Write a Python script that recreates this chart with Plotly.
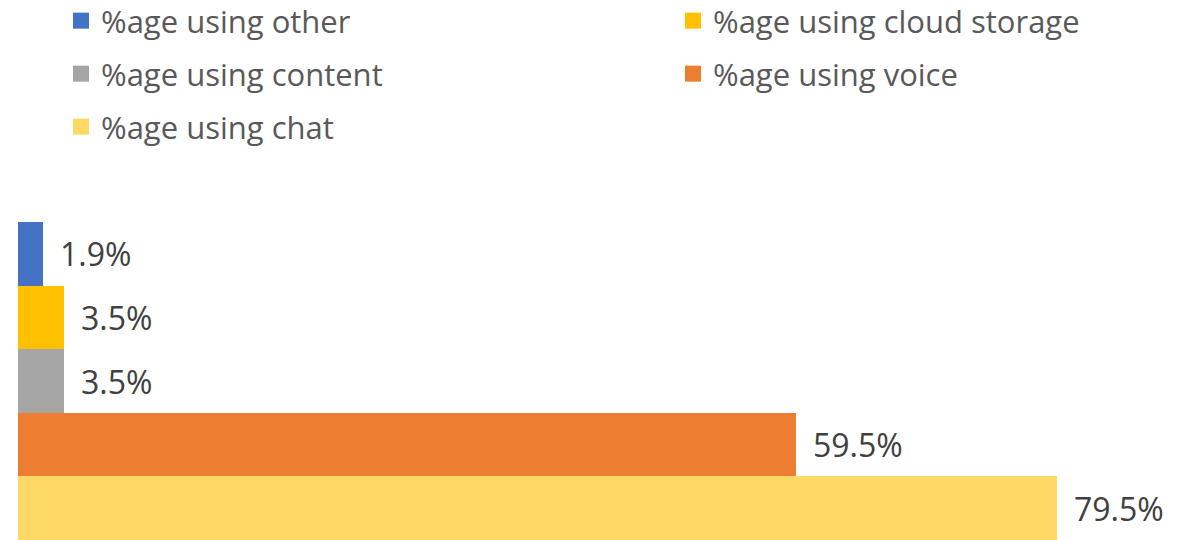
import plotly.graph_objects as go

categories = ["%age using other", "%age using cloud storage", "%age using content",
              "%age using voice", "%age using chat"]
values = [1.9, 3.5, 3.5, 59.5, 79.5]
colors = ["#4472C4", "#FFC000", "#A5A5A5", "#ED7D31", "#FFD966"]

# legend placement (pixels in the figure): column left, row centre
legend_x = [61, 673, 61, 673, 61]
legend_y = [21, 21, 74, 74, 127]

FONT = "Open Sans"
W, H = 1194, 540

fig = go.Figure()
layout_legends = {}
for i, (cat, val, col) in enumerate(zip(categories, values, colors)):
    lg = "legend" if i == 0 else f"legend{i + 1}"
    fig.add_trace(go.Bar(
        x=[val], y=[cat], orientation="h", name=cat,
        marker=dict(color=col, line=dict(width=0)),
        showlegend=False, hoverinfo="skip",
    ))
    # legend-only entry with a larger square swatch
    fig.add_trace(go.Scatter(
        x=[None], y=[None], mode="markers", name=cat,
        marker=dict(symbol="square", size=18, color=col),
        legend=lg, showlegend=True,
    ))
    fig.add_annotation(
        x=val, y=cat, text=f"{val:.1f}%", showarrow=False,
        xanchor="left", xshift=15,
        font=dict(family=FONT, size=32, color="#404040"),
    )
    layout_legends[lg] = dict(
        orientation="h", xref="container", yref="container",
        x=legend_x[i] / W, y=1 - legend_y[i] / H,
        xanchor="left", yanchor="middle", itemsizing="trace",
        font=dict(family=FONT, size=31, color="#595959"),
        bgcolor="rgba(0,0,0,0)",
    )

fig.update_layout(
    width=W, height=H,
    margin=dict(l=18, r=0, t=222, b=0, autoexpand=False),
    plot_bgcolor="white", paper_bgcolor="white",
    barmode="overlay", bargap=0,
    xaxis=dict(range=[0, 89.97], visible=False, showgrid=False, zeroline=False),
    yaxis=dict(categoryorder="array", categoryarray=categories[::-1],
               visible=False, showgrid=False),
    font=dict(family=FONT),
    **layout_legends,
)

fig.write_html("out.html",
               config={"displayModeBar": False},
               post_script="document.body.style.margin='0';")
